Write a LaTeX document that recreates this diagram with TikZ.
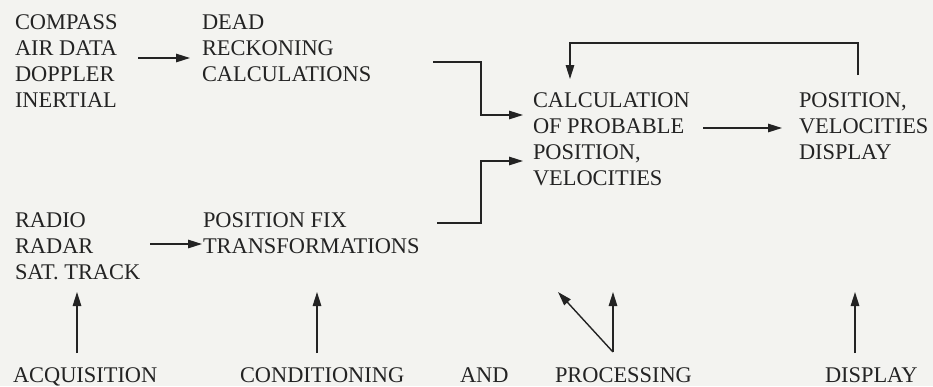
\documentclass[tikz,border=0pt]{standalone}
\usepackage{fontspec}
\setmainfont{Liberation Serif}
\usetikzlibrary{arrows.meta,calc}
\definecolor{paper}{RGB}{243,243,240}
\definecolor{ink}{RGB}{35,35,35}
\begin{document}
\begin{tikzpicture}[x=1pt,y=-1pt,
  lbl/.style={inner sep=0pt,outer sep=0pt,align=left,text=ink,
    font=\fontsize{22.4}{25.9}\selectfont},
  blk/.style={lbl,anchor=north west},
  foot/.style={lbl,anchor=base west},
  arr/.style={draw=ink,line width=1.4pt,-{Triangle[length=14pt,width=8.5pt]}},
  wire/.style={draw=ink,line width=1.4pt}]
  % sheet
  \fill[paper] (0,0) rectangle (933,386);
  \useasboundingbox (0,0) rectangle (933,386);

  % blocks of text
  \node[blk] (src1) at (15,15)  {COMPASS\\AIR DATA\\DOPPLER\\INERTIAL};
  \node[blk] (dr)   at (202,15) {DEAD\\RECKONING\\CALCULATIONS};
  \node[blk] (src2) at (15,213) {RADIO\\RADAR\\SAT. TRACK};
  \node[blk] (fix)  at (203,213) {POSITION FIX\\TRANSFORMATIONS};
  \node[blk] (calc) at (533,93) {CALCULATION\\OF PROBABLE\\POSITION,\\VELOCITIES};
  \node[blk] (disp) at (799,93) {POSITION,\\VELOCITIES\\DISPLAY};

  % stage names along the foot
  \node[foot] (acq)  at (13,382)  {ACQUISITION};
  \node[foot] (cond) at (240,382) {CONDITIONING};
  \node[foot] (and)  at (460,382) {AND};
  \node[foot] (proc) at (555,382) {PROCESSING};
  \node[foot] (show) at (825,382) {DISPLAY};

  % sensors into computations
  \draw[arr] ($(src1.north west)+(123,43)$) -- ($(dr.north west)+(-12,43)$);
  \draw[arr] ($(src2.north west)+(135,31)$) -- ($(fix.north west)+(-1,31)$);

  % both estimates merge into the probable position
  \draw[arr] ($(dr.north west)+(231,47)$) -| ($(calc.north west)+(-52,22)$)
             -- ($(calc.north west)+(-10,22)$);
  \draw[arr] ($(fix.north west)+(234,10)$) -| ($(calc.north west)+(-52,68)$)
             -- ($(calc.north west)+(-10,68)$);

  % result to display, and display fed back
  \draw[arr] ($(calc.north west)+(170,35)$) -- ($(disp.north west)+(-17,35)$);
  \draw[arr] ($(disp.north west)+(59,-18)$) |- ($(calc.north west)+(37,-50)$)
             -- ($(calc.north west)+(37,-14)$);

  % stage pointers
  \draw[arr] ($(acq.base west)+(64,-29)$)  -- ($(acq.base west)+(64,-90)$);
  \draw[arr] ($(cond.base west)+(77,-29)$) -- ($(cond.base west)+(77,-90)$);
  \draw[arr] ($(proc.base west)+(58,-30)$) -- ($(proc.base west)+(58,-90)$);
  \draw[arr] ($(proc.base west)+(58,-30)$) -- ($(proc.base west)+(3,-90)$);
  \draw[arr] ($(show.base west)+(30,-29)$) -- ($(show.base west)+(30,-90)$);
\end{tikzpicture}
\end{document}
